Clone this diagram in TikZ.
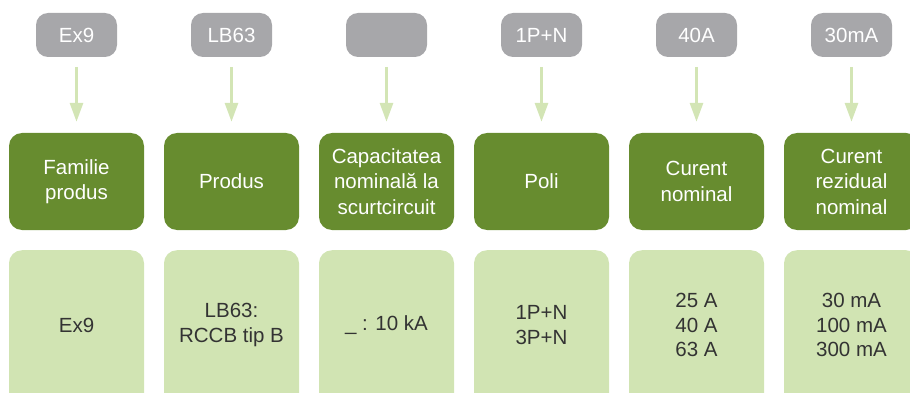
\documentclass[tikz,border=0pt]{standalone}
\usepackage{fontspec}
\setmainfont{Liberation Sans}
\usetikzlibrary{arrows.meta}
\definecolor{darkg}{HTML}{678C2F}
\definecolor{lightg}{HTML}{D1E4B3}
\definecolor{arrowg}{HTML}{D3E5B5}
\definecolor{grayb}{HTML}{A7A7AA}
\definecolor{txt}{HTML}{333333}
\tikzset{
  tagbox/.style={fill=grayb, rounded corners=12pt, minimum width=81pt, minimum height=44pt, inner sep=0pt, text=white, font=\fontsize{20.5}{24}\selectfont},
  headbox/.style={fill=darkg, rounded corners=13pt, minimum width=135pt, minimum height=97pt, inner sep=0pt, text=white, align=center, font=\fontsize{20.5}{25.5}\selectfont},
  valbox/.style={fill=lightg, rounded corners=13pt, minimum width=135pt, minimum height=170pt, inner sep=0pt, anchor=north},
  valtext/.style={text=txt, align=center, font=\fontsize{20.5}{24.5}\selectfont},
  feed/.style={draw=arrowg, line width=3pt, shorten >=11pt, -{Triangle[width=13pt,length=19pt]}},
}
\begin{document}
\begin{tikzpicture}[x=1pt,y=-1pt]
\useasboundingbox (0,0) rectangle (910,393);
\clip (0,0) rectangle (910,393);
\foreach \i/\tag/\head/\val in {
  0/Ex9/{Familie\\produs}/{Ex9},
  1/LB63/{Produs}/{LB63:\\RCCB tip B},
  2/{}/{Capacitatea\\nominală la\\scurtcircuit}/{\_ : 10 kA},
  3/1P+N/{Poli}/{1P+N\\3P+N},
  4/40A/{Curent\\nominal}/{25 A\\40 A\\63 A},
  5/30mA/{Curent\\rezidual\\nominal}/{30 mA\\100 mA\\300 mA}} {
  \pgfmathsetmacro{\cx}{76.5+155*\i}
  \node[tagbox] (t\i) at (\cx,35) {\tag};
  \node[headbox] (h\i) at (\cx,181.5) {\head};
  \node[valbox] (v\i) at (\cx,250) {};
  \node[valtext] (w\i) at (\cx,325) {\val};
  \coordinate (a\i) at (\cx,67);
  \draw[feed] (a\i) -- (h\i.north);
}
\end{tikzpicture}
\end{document}
